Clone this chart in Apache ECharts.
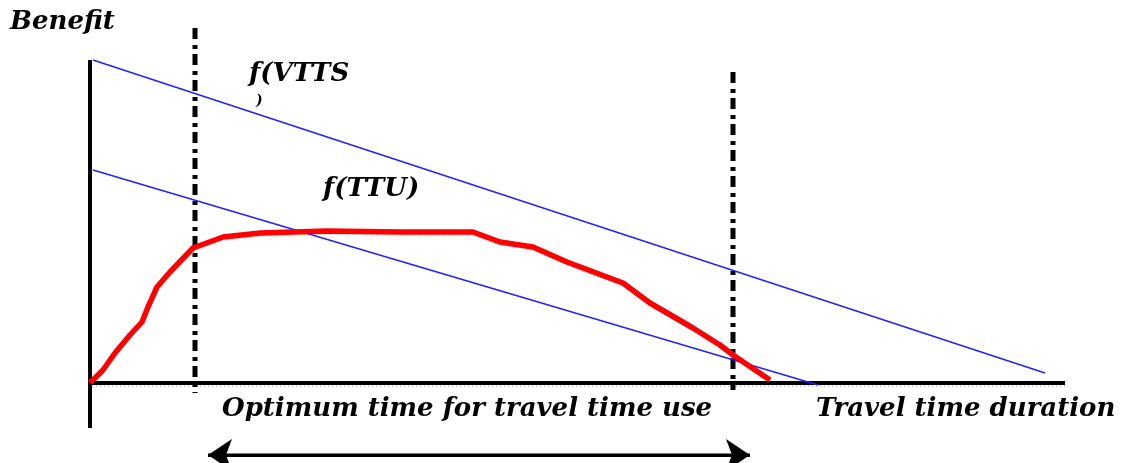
<!DOCTYPE html>
<html>
<head>
<meta charset="utf-8">
<script src="https://cdn.jsdelivr.net/npm/echarts@6/dist/echarts.min.js"></script>
<style>html,body{margin:0;padding:0;background:#fff;}#c{width:1121px;height:463px;}</style>
</head>
<body>
<div id="c"></div>
<script>
// Chart units: x = travel time duration, y = benefit (origin at axis crossing)
const ttuX = [0, 13, 25, 40, 52, 58, 67, 80, 103, 133, 170, 237, 310, 383, 410, 443, 477, 533, 560, 603, 630, 643, 680];
const ttuY = [0, 13, 30, 48, 61, 76, 96, 111, 135, 146, 150, 152, 151, 151, 141, 136, 121, 100, 80, 55, 38, 28, 3];
const vttsLineX = [3, 955];
const vttsLineY = [323, 10];
const lowerLineX = [3, 728];
const lowerLineY = [213, -2];
const xAxisX = [-2, 975];
const xAxisY = [0, 0];
const yAxisX = [0, 0];
const yAxisY = [323, -45];
const optStartX = [105, 105];
const optStartY = [355, -10];
const optEndX = [643, 643];
const optEndY = [311, -7];
const arrowX = [118, 660];
const arrowY = [-72, -72];

const zip = (xs, ys) => xs.map((x, i) => [x, ys[i]]);
const shift = (pts, dy) => pts.map(p => [p[0], p[1] + dy]);

const chart = echarts.init(document.getElementById('c'), null, {renderer: 'canvas'});
const base = {type: 'line', symbol: 'none', silent: true, animation: false};
const font = 'italic bold 26px "DejaVu Serif"';

chart.setOption({
  animation: false,
  grid: {left: 0, right: 0, top: 0, bottom: 0},
  xAxis: {type: 'value', min: -90, max: 1031, show: false},
  yAxis: {type: 'value', min: -80, max: 383, show: false},
  series: [
    Object.assign({}, base, {data: shift(zip(xAxisX, xAxisY), -3), lineStyle: {color: '#999', width: 1, type: [1, 3]}, z: 1}),
    Object.assign({}, base, {data: zip(xAxisX, xAxisY), lineStyle: {color: '#000', width: 4}, z: 3}),
    Object.assign({}, base, {data: zip(yAxisX, yAxisY), lineStyle: {color: '#000', width: 4}, z: 3}),
    Object.assign({}, base, {data: zip(optStartX, optStartY), lineStyle: {color: '#000', width: 5, type: [11, 6, 4, 5], cap: 'butt'}, z: 3}),
    Object.assign({}, base, {data: zip(optEndX, optEndY), lineStyle: {color: '#000', width: 5, type: [11, 6, 4, 5], cap: 'butt'}, z: 3}),
    Object.assign({}, base, {data: zip(vttsLineX, vttsLineY), lineStyle: {color: '#2222ff', width: 1.6}, z: 4}),
    Object.assign({}, base, {data: zip(lowerLineX, lowerLineY), lineStyle: {color: '#2222ff', width: 1.6}, z: 4}),
    Object.assign({}, base, {data: shift(zip(ttuX, ttuY), -3), lineStyle: {color: '#999', width: 1.2, type: [1, 2]}, z: 2}),
    Object.assign({}, base, {data: zip(ttuX, ttuY), lineStyle: {color: '#ff0000', width: 5.5}, z: 5}),
    Object.assign({}, base, {
      data: zip(arrowX, arrowY), lineStyle: {color: '#000', width: 3}, z: 3,
      markLine: {
        silent: true, animation: false, symbol: ['arrow', 'arrow'], symbolSize: [24, 24],
        lineStyle: {color: '#000', width: 3, type: 'solid'}, label: {show: false},
        data: [[{coord: [arrowX[0], arrowY[0]]}, {coord: [arrowX[1], arrowY[1]]}]]
      }
    })
  ],
  graphic: [
    {type: 'text', left: 10, top: 9, style: {text: 'Benefit', font: font, fill: '#000'}},
    {type: 'text', left: 249, top: 61, style: {text: 'f(VTTS', font: font, fill: '#000'}},
    {type: 'text', left: 256, top: 94, style: {text: ')', font: 'italic bold 14px "DejaVu Serif"', fill: '#000'}},
    {type: 'text', left: 323, top: 176, style: {text: 'f(TTU)', font: font, fill: '#000'}},
    {type: 'text', left: 222, top: 396, style: {text: 'Optimum time for travel time use', font: font, fill: '#000'}},
    {type: 'text', left: 816, top: 396, style: {text: 'Travel time duration', font: font, fill: '#000'}}
  ]
});
</script>
</body>
</html>
